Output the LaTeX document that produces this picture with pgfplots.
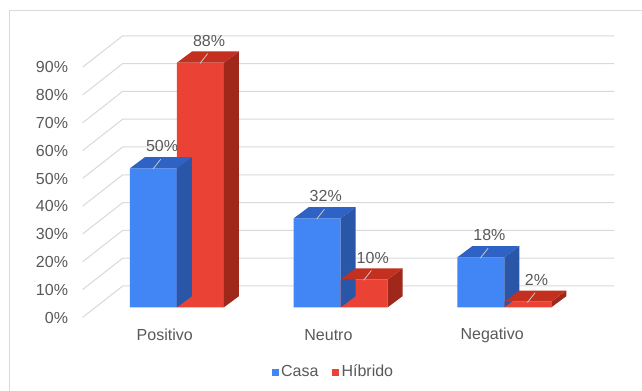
\documentclass[border=0pt]{standalone}
\usepackage{pgfplots}
\pgfplotsset{compat=1.18}
\usepackage{pgfplotstable}
\usepackage{fontspec}
\setmainfont{Liberation Sans}

\definecolor{casafront}{HTML}{4285F4}
\definecolor{casatop}{HTML}{2E62C4}
\definecolor{casaside}{HTML}{2A56A8}
\definecolor{hibfront}{HTML}{EA4335}
\definecolor{hibtop}{HTML}{C3301F}
\definecolor{hibside}{HTML}{A0281B}
\definecolor{gridgray}{HTML}{D9D9D9}
\definecolor{framegray}{HTML}{DADADA}
\definecolor{labelgray}{HTML}{595959}
\definecolor{leadergray}{HTML}{C8C8C8}

\pgfplotstableread{
cat value
0 50
1 32
2 18
}\casadata

\pgfplotstableread{
cat value
0 88
1 10
2 2
}\hibridodata

% Top and right-hand faces of a 3D bar; the mark sits at the centre of the
% bar's top front edge and \barvalue holds the bar's height in percent.
\newcommand\defbarfaces[3]{%
  \pgfdeclareplotmark{#1}{%
    \pgfscope
    \pgfmathsetlengthmacro\barh{\barvalue*2.085pt}%
    \pgfsetfillcolor{#3}%
    \pgfpathmoveto{\pgfqpoint{17.625pt}{0pt}}%
    \pgfpathlineto{\pgfqpoint{28.875pt}{8.4pt}}%
    \pgfpathlineto{\pgfpoint{28.875pt}{8.4pt-\barh}}%
    \pgfpathlineto{\pgfpoint{17.625pt}{-\barh}}%
    \pgfpathclose
    \pgfusepath{fill}%
    \pgfsetfillcolor{#2}%
    \pgfpathmoveto{\pgfqpoint{-17.625pt}{0pt}}%
    \pgfpathlineto{\pgfqpoint{17.625pt}{0pt}}%
    \pgfpathlineto{\pgfqpoint{28.875pt}{8.4pt}}%
    \pgfpathlineto{\pgfqpoint{-6.375pt}{8.4pt}}%
    \pgfpathclose
    \pgfusepath{fill}%
    \pgfsetstrokecolor{leadergray}%
    \pgfsetlinewidth{0.6pt}%
    \pgfpathmoveto{\pgfqpoint{-0.4pt}{-0.6pt}}%
    \pgfpathlineto{\pgfqpoint{5.4pt}{6.8pt}}%
    \pgfusepath{stroke}%
    \endpgfscope
  }}
\defbarfaces{casafaces}{casatop}{casaside}
\defbarfaces{hibfaces}{hibtop}{hibside}

\newcommand\chartfont{\fontsize{12}{14}\selectfont}

\begin{document}
\begin{tikzpicture}[x=1pt,y=1pt]
\useasboundingbox (0,0) rectangle (481.5,292.5);
\fill[white] (0,0) rectangle (481.5,292.5);
\draw[framegray, line width=0.75pt] (6.75,-5) |- (490,284.25);
\begin{axis}[
  at={(0,0)}, anchor=south west,
  x=122.775pt, y=2.085pt,
  xmin=-1.0812, xmax=2.8406, ymin=-29.75, ymax=110.54,
  clip=false,
  axis line style={draw=none},
  major tick length=0pt,
  xtick={0,1,2}, xticklabels={Positivo,Neutro,Negativo},
  ytick={0,10,...,90},
  yticklabel={\pgfmathprintnumber{\tick}\%},
  /pgf/number format/assume math mode=true,
  every tick label/.append style={font=\chartfont, text=labelgray, inner sep=0pt},
  yticklabel style={anchor=east, xshift=51.2pt, yshift=-7.65pt},
  xticklabel style={anchor=center, xshift=-9.2pt, yshift=41.25pt},
  legend columns=2,
  legend style={at={(axis cs:0.957,-23.3)}, anchor=center, draw=none, fill=none,
    font=\chartfont, text=labelgray,
    /tikz/every even column/.append style={column sep=8pt}},
  bar label/.style={
    forget plot, only marks, scatter,
    visualization depends on={rawy \as \barvalue},
    nodes near coords={\pgfmathprintnumber{\pgfplotspointmeta}\%},
    nodes near coords style={anchor=center, xshift=6.4pt, yshift=16.5pt,
      font=\chartfont, text=labelgray, inner sep=0pt},
  },
]
% back wall and floor grid
\pgfplotsinvokeforeach{0,10,...,90}{
  \draw[gridgray, line width=0.75pt]
    ([yshift=-7.5pt]axis cs:-0.576,#1) -- ([yshift=15.98pt]axis cs:-0.3317,#1)
    -- ([yshift=15.98pt]axis cs:2.6695,#1);
}
% Casa
\addplot[ybar, bar width=35.25pt, bar shift=-17.625pt, fill=casafront, draw=none,
  legend image code/.code={\fill[casafront] (0pt,-2.6pt) rectangle (5.25pt,2.6pt);}]
  table[x=cat, y=value]{\casadata};
\addlegendentry{Casa}
\addplot[bar label, mark=casafaces]
  table[x expr=\thisrow{cat}-0.14355, y=value]{\casadata};
% Híbrido
\addplot[ybar, bar width=35.25pt, bar shift=17.625pt, fill=hibfront, draw=none,
  legend image code/.code={\fill[hibfront] (0pt,-2.6pt) rectangle (5.25pt,2.6pt);}]
  table[x=cat, y=value]{\hibridodata};
\addlegendentry{Híbrido}
\addplot[bar label, mark=hibfaces]
  table[x expr=\thisrow{cat}+0.14355, y=value]{\hibridodata};
\end{axis}
\end{tikzpicture}
\end{document}
